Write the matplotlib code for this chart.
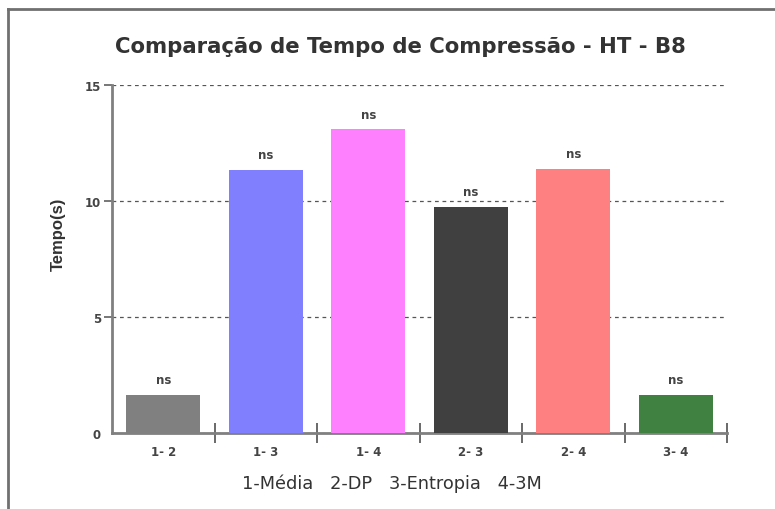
import matplotlib
matplotlib.use("Agg")
import matplotlib.pyplot as plt

plt.rcParams['font.family'] = ['DejaVu Sans']

# Pairwise comparisons and their compression times (s)
categories = ["1- 2", "1- 3", "1- 4", "2- 3", "2- 4", "3- 4"]
tempos = [1.65, 11.35, 13.1, 9.75, 11.4, 1.65]
significancia = ["ns", "ns", "ns", "ns", "ns", "ns"]
cores = ["#808080", "#8080FF", "#FF80FF", "#404040", "#FF8080", "#408040"]
yticks = [0, 5, 10, 15]
legenda = "1-Média   2-DP   3-Entropia   4-3M"
titulo = "Comparação de Tempo de Compressão - HT - B8"

fig = plt.figure(figsize=(7.75, 5.1), dpi=100)
fig.patch.set_facecolor("white")

# outer frame (open on right and bottom)
fig.add_artist(plt.Line2D([8 / 775, 8 / 775], [0, 1 - 10 / 510],
                          transform=fig.transFigure, color="#707070", lw=2))
fig.add_artist(plt.Line2D([8 / 775, 1], [1 - 10 / 510, 1 - 10 / 510],
                          transform=fig.transFigure, color="#707070", lw=2))

ax = fig.add_axes([112 / 775, 1 - 434 / 510, (727 - 112) / 775, (434 - 86) / 510])

x = [i + 0.5 for i in range(len(categories))]
bars = ax.bar(x, tempos, width=0.72, color=cores, zorder=3)

for xi, v, s in zip(x, tempos, significancia):
    ax.annotate(s, (xi, v), xytext=(0, 6), textcoords="offset points",
                ha="center", va="bottom", fontsize=8.5, fontweight="bold",
                color="#444444")

ax.set_xlim(0, len(categories))
ax.set_ylim(0, 15)

# y axis
ax.set_yticks(yticks)
ax.set_yticklabels([str(t) for t in yticks], fontsize=8.5, fontweight="bold",
                   color="#444444")
ax.tick_params(axis="y", direction="out", length=6, width=1.2, color="#606060",
               pad=2)
for t in ax.yaxis.get_major_ticks()[:1]:
    t.tick1line.set_visible(False)

# x axis: ticks at category boundaries, labels at centres
ax.set_xticks(range(1, len(categories) + 1))
ax.set_xticklabels([])
ax.set_xticks(x, minor=True)
ax.set_xticklabels(categories, minor=True, fontsize=8.5, fontweight="bold",
                   color="#444444")
ax.tick_params(axis="x", which="major", direction="inout", length=15,
               width=1.2, color="#505050")
ax.tick_params(axis="x", which="minor", length=0, pad=9)

ax.yaxis.grid(True, linestyle=(0, (3, 3)), color="#555555", lw=0.9, zorder=1)
ax.xaxis.grid(False)

for side in ("top", "right"):
    ax.spines[side].set_visible(False)
for side in ("left", "bottom"):
    ax.spines[side].set_color("#808080")
    ax.spines[side].set_linewidth(2)
ax.set_axisbelow(True)

ax.set_ylabel("Tempo(s)", fontsize=12, fontweight="bold", color="#333333",
              family="Liberation Sans")
ax.yaxis.set_label_coords(-0.075, 0.575)

fig.text(400 / 775, 1 - 47 / 510, titulo, ha="center", va="center",
         fontsize=15.3, fontweight="bold", color="#333333")
fig.text(392 / 775, 1 - 484 / 510, legenda, ha="center", va="center",
         fontsize=12.8, color="#333333")

fig.savefig("out.png", dpi=100, facecolor="white")
